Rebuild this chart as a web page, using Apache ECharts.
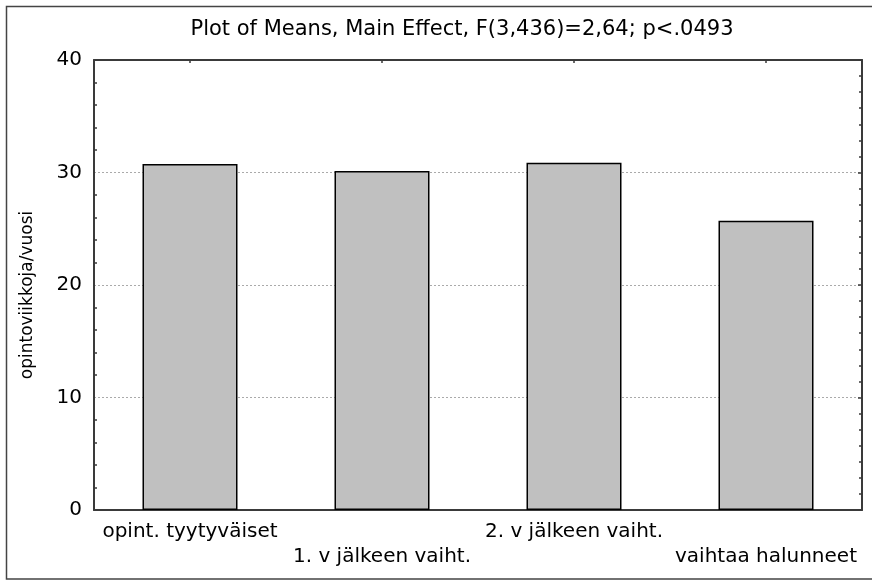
<!DOCTYPE html>
<html>
<head>
<meta charset="utf-8">
<script src="https://cdn.jsdelivr.net/npm/echarts@6/dist/echarts.min.js"></script>
<style>
  html, body { margin: 0; padding: 0; background: #fff; }
  #chart { width: 872px; height: 581px; }
</style>
</head>
<body>
<div id="chart"></div>
<script>
// Group means of study weeks per year
const categories = ['opint. tyytyväiset', '1. v jälkeen vaiht.', '2. v jälkeen vaiht.', 'vaihtaa halunneet'];
const means = [30.75, 30.13, 30.87, 25.72];
const yTicks = [0, 10, 20, 30, 40];

const titleText = 'Plot of Means, Main Effect, F(3,436)=2,64; p<.0493';
const yName = 'opintoviikkoja/vuosi';

const FONT = 'DejaVu Sans';
const AXIS_COLOR = '#3a3a3a';

const chart = echarts.init(document.getElementById('chart'), null, { renderer: 'canvas' });

chart.setOption({
  animation: false,
  backgroundColor: '#fff',
  title: {
    text: titleText,
    left: 457,
    top: 14,
    textAlign: 'center',
    textStyle: { fontFamily: FONT, fontSize: 21, fontWeight: 'normal', color: '#000' }
  },
  graphic: [{
    type: 'rect',
    shape: { x: 6.5, y: 6.5, width: 880, height: 572.5 },
    style: { fill: 'none', stroke: '#444', lineWidth: 1.5 },
    silent: true,
    z: 0
  }],
  grid: { left: 94, right: 10, top: 60, bottom: 71, containLabel: false },
  xAxis: [{
    type: 'category',
    position: 'bottom',
    data: categories,
    boundaryGap: true,
    axisLine: { show: true, onZero: false, lineStyle: { color: AXIS_COLOR, width: 2 } },
    axisTick: { show: true, inside: true, alignWithLabel: true, length: 3, lineStyle: { color: AXIS_COLOR, width: 1.5 } },
    axisLabel: {
      interval: 0,
      margin: 9,
      fontFamily: FONT,
      fontSize: 20,
      color: '#000',
      lineHeight: 25,
      formatter: (v, i) => (i % 2 ? '\n' + v : v)
    },
    splitLine: { show: false }
  }, {
    type: 'category',
    position: 'top',
    data: categories,
    boundaryGap: true,
    axisLine: { show: true, onZero: false, lineStyle: { color: AXIS_COLOR, width: 2 } },
    axisTick: { show: true, inside: true, alignWithLabel: true, length: 3, lineStyle: { color: AXIS_COLOR, width: 1.5 } },
    axisLabel: { show: false },
    splitLine: { show: false }
  }],
  yAxis: [{
    type: 'value',
    position: 'left',
    min: yTicks[0],
    max: yTicks[yTicks.length - 1],
    interval: 10,
    name: yName,
    nameLocation: 'middle',
    nameGap: 58,
    nameRotate: 90,
    nameTextStyle: { fontFamily: FONT, fontSize: 17, color: '#000', padding: [0, 20, 0, 0] },
    axisLine: { show: true, onZero: false, lineStyle: { color: AXIS_COLOR, width: 2 } },
    axisTick: { show: true, inside: true, length: 0, lineStyle: { color: AXIS_COLOR } },
    minorTick: { show: true, splitNumber: 5, length: 3, lineStyle: { color: AXIS_COLOR, width: 1.5 } },
    axisLabel: { margin: 12, fontFamily: FONT, fontSize: 20, color: '#000' },
    splitLine: { show: true, lineStyle: { color: '#aaa', type: [2, 2], width: 1 } }
  }, {
    type: 'value',
    position: 'right',
    min: yTicks[0],
    max: yTicks[yTicks.length - 1],
    interval: 10,
    axisLine: { show: true, onZero: false, lineStyle: { color: AXIS_COLOR, width: 2 } },
    axisTick: { show: true, inside: true, length: 4, lineStyle: { color: AXIS_COLOR, width: 1.5 } },
    minorTick: { show: true, splitNumber: 7, length: 3, lineStyle: { color: AXIS_COLOR, width: 1.5 } },
    axisLabel: { show: false },
    splitLine: { show: false }
  }],
  series: [{
    type: 'bar',
    data: means,
    xAxisIndex: 0,
    yAxisIndex: 0,
    barWidth: 95,
    itemStyle: { color: '#c0c0c0', borderColor: '#000', borderWidth: 1.5 },
    z: 3
  }]
});
</script>
</body>
</html>
